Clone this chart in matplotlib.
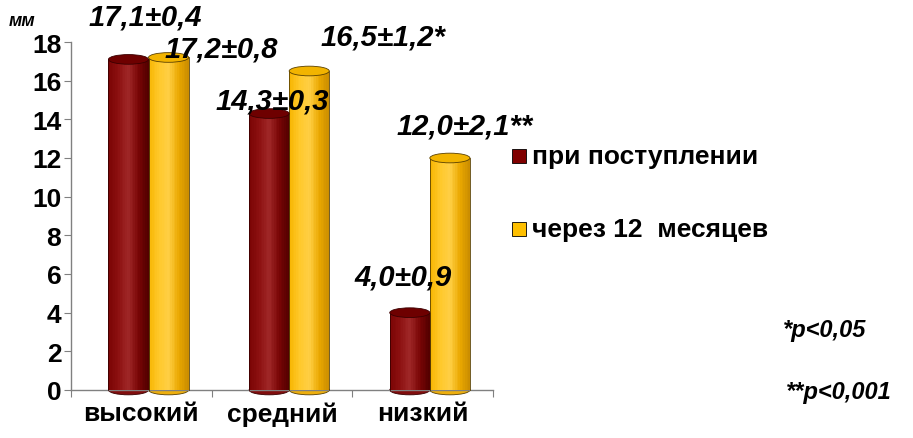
import matplotlib.pyplot as plt
import matplotlib.colors as mcolors
from matplotlib.patches import Ellipse, Rectangle
import numpy as np

plt.rcParams['font.family'] = ['Liberation Sans', 'DejaVu Sans']

# data
groups = ["высокий", "средний", "низкий"]
admission = [17.1, 14.3, 4.0]
after_12m = [17.2, 16.5, 12.0]
labels_adm = ["17,1±0,4", "14,3±0,3", "4,0±0,9"]
labels_12m = ["17,2±0,8", "16,5±1,2*", "12,0±2,1**"]
series_names = ["при поступлении", "через 12  месяцев"]

# label positions (data coords)
pos_adm = [(0.03, 19.3), (0.93, 15.0), (1.86, 5.85)]
pos_12m = [(0.57, 17.64), (1.72, 18.3), (2.30, 13.7)]

red_stops = ["#7a0404", "#8c1010", "#a02828", "#7a0606", "#520000"]
gold_stops = ["#f7b500", "#ffc82a", "#ffcf45", "#eaa800", "#c98c00"]
red_cmap = mcolors.LinearSegmentedColormap.from_list("r", red_stops)
gold_cmap = mcolors.LinearSegmentedColormap.from_list("g", gold_stops)

fig = plt.figure(figsize=(9.13, 4.39), dpi=100)
ax = fig.add_axes([71 / 913, 1 - 391 / 439, 422 / 913, 348 / 439])

w = 0.285
eh = 0.5
nstrip = 24


def cylinder(x0, h, cmap, top_c, edge_c):
    xs = np.linspace(x0, x0 + w, nstrip + 1)
    # bottom cap
    ax.add_patch(Ellipse((x0 + w / 2, 0), w, eh, facecolor=cmap(0.7),
                         edgecolor=edge_c, lw=0.6, zorder=2, clip_on=False))
    for i in range(nstrip):
        t = (i + 0.5) / nstrip
        ax.add_patch(Rectangle((xs[i], 0), xs[i + 1] - xs[i], h,
                               facecolor=cmap(t), edgecolor='none',
                               zorder=3, clip_on=False))
    ax.plot([x0, x0], [0, h], color=edge_c, lw=0.6, zorder=4, clip_on=False)
    ax.plot([x0 + w, x0 + w], [0, h], color=edge_c, lw=0.6, zorder=4,
            clip_on=False)
    ax.add_patch(Ellipse((x0 + w / 2, h), w, eh, facecolor=top_c,
                         edgecolor=edge_c, lw=0.6, zorder=5, clip_on=False))


for i in range(len(groups)):
    cylinder(i - 0.234, admission[i], red_cmap, "#6e0000", "#3a0000")
    cylinder(i - 0.234 + w, after_12m[i], gold_cmap, "#f2b400", "#5a4000")

txt = dict(fontsize=21, fontweight='bold', fontstyle='italic', ha='center',
           va='center', zorder=10, clip_on=False)
for (x, y), s in zip(pos_adm, labels_adm):
    ax.text(x, y, s, **txt)
for (x, y), s in zip(pos_12m, labels_12m):
    ax.text(x, y, s, **txt)

ax.set_xlim(-0.5, 2.5)
ax.set_ylim(0, 18)
ax.set_yticks(np.arange(0, 19, 2))
ax.set_xticks([-0.5, 0.5, 1.5, 2.5])
ax.set_xticklabels([])
ax.set_xticks(range(3), groups, minor=True)
ax.tick_params(axis='x', which='minor', length=0, pad=8, labelsize=19)
ax.tick_params(axis='x', which='major', length=5, color='#808080')
ax.tick_params(axis='y', length=5, color='#808080', labelsize=19, pad=2)
for lab in ax.get_yticklabels() + ax.get_xticklabels(minor=True):
    lab.set_fontweight('bold')
for s in ['top', 'right']:
    ax.spines[s].set_visible(False)
for s in ['left', 'bottom']:
    ax.spines[s].set_color('#808080')
    ax.spines[s].set_linewidth(1.0)

fig.text(9 / 913, 1 - 21 / 439, "мм", fontsize=13, fontweight='bold',
         fontstyle='italic', va='center')

# legend
for (y, c, name) in [(157, "#800000", series_names[0]),
                     (230, "#ffc000", series_names[1])]:
    fig.patches.append(Rectangle((512 / 913, 1 - (y + 7) / 439), 14 / 913,
                                 14 / 439, facecolor=c, edgecolor='black',
                                 lw=0.6, transform=fig.transFigure,
                                 figure=fig))
    fig.text(532 / 913, 1 - y / 439, name, fontsize=19, fontweight='bold',
             va='center')

fig.text(783 / 913, 1 - 330 / 439, "*p<0,05", fontsize=17,
         fontweight='bold', fontstyle='italic', va='center')
fig.text(786 / 913, 1 - 393 / 439, "**p<0,001", fontsize=17,
         fontweight='bold', fontstyle='italic', va='center')

fig.savefig("out.png", dpi=100)
